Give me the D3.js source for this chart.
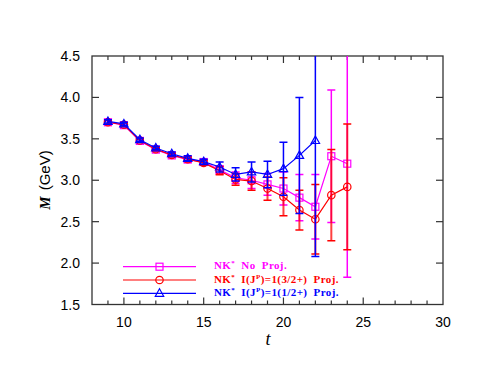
<!DOCTYPE html>
<html>
<head>
<meta charset="utf-8">
<script src="https://cdn.jsdelivr.net/npm/d3@7"></script>
<style>
  body { margin: 0; background: #fff; }
  svg { display: block; }
</style>
</head>
<body>
<div id="chart"></div>
<script>
// t values
const tNo = [9, 10, 11, 12, 13, 14, 15, 16, 17, 18, 19, 20, 21, 22, 23, 24];
const mNo = [3.70, 3.665, 3.475, 3.37, 3.30, 3.25, 3.22, 3.125, 3.03, 3.00, 2.95, 2.90, 2.79, 2.68, 3.29, 3.20];
const eNo = [0.02, 0.02, 0.02, 0.02, 0.02, 0.03, 0.03, 0.05, 0.07, 0.10, 0.13, 0.20, 0.28, 0.39, 0.80, 1.37];

const t32 = [9, 10, 11, 12, 13, 14, 15, 16, 17, 18, 19, 20, 21, 22, 23, 24];
const m32 = [3.70, 3.67, 3.48, 3.375, 3.305, 3.255, 3.21, 3.115, 3.01, 2.99, 2.90, 2.80, 2.64, 2.53, 2.82, 2.92];
const e32 = [0.02, 0.02, 0.02, 0.02, 0.02, 0.03, 0.03, 0.05, 0.07, 0.11, 0.14, 0.23, 0.24, 0.42, 0.55, 0.76];

const t12 = [9, 10, 11, 12, 13, 14, 15, 16, 17, 18, 19, 20, 21, 22];
const m12 = [3.71, 3.68, 3.49, 3.39, 3.32, 3.265, 3.225, 3.16, 3.07, 3.10, 3.07, 3.14, 3.30, 3.48];
const e12 = [0.02, 0.02, 0.02, 0.02, 0.02, 0.03, 0.03, 0.06, 0.08, 0.12, 0.16, 0.32, 0.70, 1.40];

const xTicks = [10, 15, 20, 25, 30];
const yTicks = [1.5, 2.0, 2.5, 3.0, 3.5, 4.0, 4.5];

const series = [
  { name: "No", t: tNo, m: mNo, e: eNo, color: "#ff00ff", sym: "square", label: ["NK", "*", " No Proj."] },
  { name: "p32", t: t32, m: m32, e: e32, color: "#ff0000", sym: "circle", label: ["NK", "*", " I(J", "P", ")=1(3/2+) Proj."] },
  { name: "p12", t: t12, m: m12, e: e12, color: "#0000ff", sym: "triangle", label: ["NK", "*", " I(J", "P", ")=1(1/2+) Proj."] }
];

const width = 491, height = 379;
const margin = { top: 56, right: 48, bottom: 74.5, left: 92 };
const innerW = width - margin.left - margin.right;
const innerH = height - margin.top - margin.bottom;

const svg = d3.select("#chart").append("svg")
  .attr("width", width)
  .attr("height", height);

const g = svg.append("g")
  .attr("transform", `translate(${margin.left},${margin.top})`);

const x = d3.scaleLinear().domain([8, 30]).range([0, innerW]);
const y = d3.scaleLinear().domain([1.5, 4.5]).range([innerH, 0]);

svg.append("defs").append("clipPath").attr("id", "clip")
  .append("rect").attr("width", innerW).attr("height", innerH);

// axes: ticks pointing inward
const axisColor = "#333";
const minorX = d3.range(9, 30);
const majorLen = 7, minorLen = 4;

function drawXTicks(yPos, dir) {
  g.append("g").selectAll("line")
    .data(minorX)
    .enter().append("line")
    .attr("x1", d => x(d)).attr("x2", d => x(d))
    .attr("y1", yPos)
    .attr("y2", d => yPos + dir * (d % 5 === 0 ? majorLen : minorLen))
    .attr("stroke", axisColor).attr("stroke-width", 1.2);
}
drawXTicks(innerH, -1);
drawXTicks(0, 1);

function drawYTicks(xPos, dir) {
  g.append("g").selectAll("line")
    .data(yTicks.slice(1, -1))
    .enter().append("line")
    .attr("y1", d => y(d)).attr("y2", d => y(d))
    .attr("x1", xPos)
    .attr("x2", xPos + dir * majorLen)
    .attr("stroke", axisColor).attr("stroke-width", 1.2);
}
drawYTicks(0, 1);
drawYTicks(innerW, -1);

g.append("rect")
  .attr("width", innerW).attr("height", innerH)
  .attr("fill", "none").attr("stroke", axisColor).attr("stroke-width", 1.3);

// tick labels
g.append("g").selectAll("text")
  .data(xTicks)
  .enter().append("text")
  .attr("x", d => x(d))
  .attr("y", innerH + 22)
  .attr("text-anchor", "middle")
  .attr("font-family", "Liberation Sans, Arial, sans-serif")
  .attr("font-size", 14)
  .text(d => d);

g.append("g").selectAll("text")
  .data(yTicks)
  .enter().append("text")
  .attr("x", -12)
  .attr("y", d => y(d))
  .attr("dy", "0.36em")
  .attr("text-anchor", "end")
  .attr("font-family", "Liberation Sans, Arial, sans-serif")
  .attr("font-size", 14)
  .text(d => d.toFixed(1));

// axis titles
svg.append("text")
  .attr("x", 268).attr("y", 345)
  .attr("text-anchor", "middle")
  .attr("font-family", "Liberation Serif, Times New Roman, serif")
  .attr("font-style", "italic")
  .attr("font-size", 18)
  .text("t");

const yTitle = svg.append("text")
  .attr("transform", "translate(50,180) rotate(-90)")
  .attr("text-anchor", "middle")
  .attr("font-size", 15);
yTitle.append("tspan")
  .attr("font-family", "Liberation Serif, Times New Roman, serif")
  .attr("font-style", "italic").attr("font-weight", "bold").text("M");
yTitle.append("tspan")
  .attr("font-family", "Liberation Sans, Arial, sans-serif")
  .attr("dx", 6).text("(GeV)");

// markers
function drawMarker(sel, sym, color, cx, cy) {
  if (sym === "square") {
    sel.append("rect")
      .attr("x", cx - 3.5).attr("y", cy - 3.5).attr("width", 7).attr("height", 7)
      .attr("fill", "none").attr("stroke", color).attr("stroke-width", 1.2);
  } else if (sym === "circle") {
    sel.append("circle")
      .attr("cx", cx).attr("cy", cy).attr("r", 3.7)
      .attr("fill", "none").attr("stroke", color).attr("stroke-width", 1.2);
  } else {
    sel.append("path")
      .attr("d", `M${cx},${cy - 4.5}L${cx + 4.2},${cy + 3}L${cx - 4.2},${cy + 3}Z`)
      .attr("fill", "none").attr("stroke", color).attr("stroke-width", 1.2);
  }
}

const plot = g.append("g").attr("clip-path", "url(#clip)");

series.forEach(s => {
  const pts = s.t.map((t, i) => ({ t: t, m: s.m[i], e: s.e[i] }));
  const sg = plot.append("g");

  // error bars
  const eb = sg.selectAll("g.eb").data(pts).enter().append("g");
  eb.append("line")
    .attr("x1", d => x(d.t)).attr("x2", d => x(d.t))
    .attr("y1", d => y(d.m - d.e)).attr("y2", d => y(d.m + d.e))
    .attr("stroke", s.color).attr("stroke-width", s.sym === "circle" ? 2 : 1.5)
    .attr("stroke-opacity", s.sym === "circle" ? 0.75 : 1);
  [-1, 1].forEach(sgn => {
    eb.append("line")
      .attr("x1", d => x(d.t) - 4).attr("x2", d => x(d.t) + 4)
      .attr("y1", d => y(d.m + sgn * d.e)).attr("y2", d => y(d.m + sgn * d.e))
      .attr("stroke", s.color).attr("stroke-width", 1.5);
  });

  sg.append("path")
    .datum(pts)
    .attr("d", d3.line().x(d => x(d.t)).y(d => y(d.m)))
    .attr("fill", "none").attr("stroke", s.color).attr("stroke-width", 1.2);

  pts.forEach(d => drawMarker(sg, s.sym, s.color, x(d.t), y(d.m)));
});

// legend
const legend = svg.append("g");
series.forEach((s, i) => {
  const ly = 266.7 + i * 13.3;
  legend.append("line")
    .attr("x1", 123).attr("x2", 196).attr("y1", ly).attr("y2", ly)
    .attr("stroke", s.color).attr("stroke-width", 1.2);
  drawMarker(legend, s.sym, s.color, 159.5, ly);
  const txt = legend.append("text")
    .attr("x", 214).attr("y", ly + 2.5)
    .attr("fill", s.color)
    .attr("font-family", "Liberation Serif, Times New Roman, serif")
    .attr("font-weight", "bold")
    .attr("font-size", 11)
    .attr("word-spacing", 3)
    .attr("letter-spacing", 0.4)
    .style("white-space", "pre");
  s.label.forEach((part, k) => {
    const sup = (part === "*" || part === "P");
    const ts = txt.append("tspan").text(part);
    if (sup) {
      ts.attr("font-size", 7).attr("dy", -4);
    } else if (k > 0) {
      ts.attr("dy", 4);
    }
  });
});
</script>
</body>
</html>
